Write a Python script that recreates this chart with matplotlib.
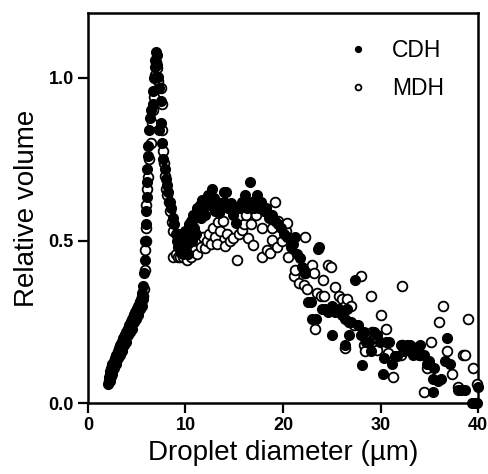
import matplotlib
matplotlib.use("Agg")
import matplotlib.pyplot as plt

plt.rcParams['font.family'] = ['Liberation Sans', 'DejaVu Sans']

cdh_x = [2.1, 2.2, 2.25, 2.3, 2.4, 2.5, 2.6, 2.7, 2.8, 2.9, 3.0, 3.1, 3.2, 3.3, 3.4, 3.5, 3.6, 3.7, 3.8, 3.9,
         4.0, 4.1, 4.2, 4.3, 4.4, 4.5, 4.6, 4.7, 4.8, 4.9, 5.0, 5.1, 5.2, 5.3, 5.4, 5.5, 5.6, 5.7, 5.8,
         2.3, 2.5, 2.7, 2.9, 3.1, 3.3, 3.5, 3.7, 3.9, 4.1, 4.3, 4.5, 4.7, 4.9, 5.1, 5.3, 5.5, 5.7,
         5.85, 5.9, 5.95, 6.0, 6.02, 6.08, 6.1, 6.15, 6.19, 6.3, 6.36, 6.5, 6.65, 6.7, 6.8, 6.9, 6.87, 6.95,
         7.05, 7.1, 7.2, 7.3, 7.3, 7.45, 7.5, 7.6, 7.75, 7.9, 8.0, 8.1, 8.25, 8.4, 8.55, 8.7, 8.85, 9.0, 9.1,
         9.2, 9.3, 9.4, 9.5, 9.6, 9.7, 9.8, 9.9, 10.0, 10.1, 10.2, 10.3, 10.4, 10.5, 10.6, 10.7, 10.8, 10.9,
         11.0, 11.1, 11.2, 11.3, 11.5, 11.6, 11.7, 11.8, 12.0, 12.1, 12.3, 12.5, 12.7, 12.9, 13.0, 13.2, 13.4,
         13.6, 13.9, 14.0, 14.2, 14.4, 14.7, 14.9, 15.1, 15.2, 15.5, 15.8, 16.1, 16.3, 16.6, 16.8, 17.0, 17.3,
         17.5, 17.7, 18.0, 18.3, 18.6, 18.9, 19.2, 19.5, 19.8, 20.1, 20.4, 20.8, 21.0, 21.2, 21.4, 21.7, 21.9,
         22.3, 22.6, 22.9, 23.0, 23.4, 23.6, 23.7, 24.0, 24.3, 24.6, 25.0, 25.0, 25.3, 25.7, 26.0, 26.3, 26.3,
         26.6, 26.8, 27.0, 27.4, 27.7, 28.0, 28.1, 28.3, 28.5, 28.8, 29.0, 29.3, 29.6, 29.9, 30.2, 30.3, 30.6,
         30.9, 31.2, 31.5, 31.7, 32.1, 32.4, 32.7, 33.0, 33.3, 33.6, 33.9, 34.0, 34.4, 34.7, 35.0, 35.4, 35.4,
         35.5, 35.9, 36.2, 36.6, 36.8, 37.1, 37.9, 38.2, 38.6, 39.4, 39.7, 39.9, 39.96]
cdh_y = [0.06, 0.08, 0.10, 0.09, 0.11, 0.12, 0.12, 0.13, 0.14, 0.15, 0.15, 0.16, 0.17, 0.18, 0.18, 0.19, 0.20, 0.20, 0.21, 0.22,
         0.22, 0.23, 0.24, 0.24, 0.25, 0.26, 0.26, 0.27, 0.28, 0.28, 0.29, 0.30, 0.30, 0.31, 0.32, 0.33, 0.34, 0.36, 0.40,
         0.07, 0.09, 0.11, 0.12, 0.14, 0.15, 0.16, 0.18, 0.19, 0.21, 0.22, 0.23, 0.25, 0.26, 0.27, 0.29, 0.30, 0.32,
         0.44, 0.50, 0.55, 0.59, 0.635, 0.68, 0.72, 0.76, 0.79, 0.84, 0.876, 0.90, 0.92, 0.96, 1.00, 1.035, 1.055, 1.08,
         1.07, 1.04, 1.004, 0.97, 0.84, 0.93, 0.86, 0.80, 0.75, 0.72, 0.69, 0.67, 0.65, 0.62, 0.60, 0.57, 0.55, 0.52, 0.50,
         0.48, 0.52, 0.47, 0.50, 0.49, 0.46, 0.51, 0.47, 0.53, 0.49, 0.50, 0.46, 0.55, 0.52, 0.56, 0.50, 0.58, 0.54,
         0.57, 0.52, 0.60, 0.59, 0.61, 0.57, 0.625, 0.60, 0.58, 0.62, 0.64, 0.61, 0.66, 0.63, 0.59, 0.62, 0.585,
         0.60, 0.65, 0.62, 0.65, 0.60, 0.615, 0.58, 0.60, 0.555, 0.60, 0.62, 0.64, 0.60, 0.68, 0.62, 0.60, 0.64,
         0.60, 0.62, 0.59, 0.60, 0.57, 0.58, 0.56, 0.55, 0.54, 0.52, 0.51, 0.48, 0.49, 0.51, 0.46, 0.447, 0.42,
         0.40, 0.31, 0.31, 0.26, 0.26, 0.475, 0.48, 0.29, 0.29, 0.28, 0.30, 0.21, 0.28, 0.29, 0.27, 0.26, 0.18,
         0.29, 0.21, 0.25, 0.38, 0.24, 0.21, 0.118, 0.22, 0.19, 0.19, 0.16, 0.22, 0.21, 0.19, 0.09, 0.14, 0.19,
         0.19, 0.12, 0.145, 0.145, 0.18, 0.16, 0.18, 0.18, 0.15, 0.17, 0.15, 0.18, 0.15, 0.12, 0.13, 0.075, 0.035,
         0.11, 0.07, 0.075, 0.13, 0.20, 0.12, 0.04, 0.04, 0.04, 0.0, 0.0, 0.0, 0.05]

mdh_x = [2.15, 2.35, 2.45, 2.55, 2.65, 2.75, 2.85, 2.95, 3.05, 3.15, 3.25, 3.35, 3.45, 3.55, 3.65, 3.75, 3.85, 3.95,
         4.05, 4.15, 4.25, 4.35, 4.45, 4.55, 4.65, 4.75, 4.85, 4.95, 5.05, 5.15, 5.25, 5.35, 5.45, 5.55, 5.65, 5.75,
         5.85, 5.9, 5.95, 6.0, 6.0, 6.1, 6.2, 6.3, 6.45, 6.55, 6.7, 6.8, 6.9, 7.0, 7.1, 7.2, 7.5, 7.6, 7.6, 7.7,
         7.8, 7.9, 8.0, 8.1, 8.3, 8.4, 8.6, 8.75, 8.75, 9.0, 9.26, 9.4, 9.6, 9.8, 10.0, 10.2, 10.4, 10.6, 10.8,
         11.0, 11.2, 11.4, 11.6, 11.8, 12.0, 12.2, 12.4, 12.6, 12.8, 13.0, 13.2, 13.37, 13.5, 13.8, 14.05, 14.3,
         14.6, 14.9, 15.25, 15.5, 15.76, 16.0, 16.2, 16.4, 16.7, 16.96, 17.2, 17.5, 17.8, 17.8, 18.1, 18.4, 18.67,
         18.84, 18.84, 19.2, 19.35, 19.5, 19.9, 20.3, 20.4, 20.5, 21.1, 21.2, 21.6, 22.1, 22.26, 22.3, 22.5, 23.0,
         23.2, 23.3, 23.5, 23.9, 24.1, 24.2, 24.6, 24.9, 25.3, 25.7, 26.0, 26.3, 26.3, 26.6, 26.8, 27.0, 27.3,
         28.0, 28.3, 28.4, 28.8, 29.0, 29.1, 29.2, 29.4, 29.6, 30.0, 30.6, 30.8, 31.3, 32.1, 32.2, 32.2, 32.9,
         33.5, 34.0, 34.4, 34.7, 35.2, 36.0, 36.4, 36.8, 37.3, 37.9, 38.4, 38.6, 38.9, 39.5, 39.9]
mdh_y = [0.07, 0.085, 0.10, 0.11, 0.12, 0.13, 0.14, 0.14, 0.15, 0.16, 0.17, 0.17, 0.18, 0.19, 0.19, 0.20, 0.21, 0.21,
         0.22, 0.23, 0.23, 0.24, 0.25, 0.25, 0.26, 0.27, 0.27, 0.28, 0.29, 0.29, 0.30, 0.31, 0.31, 0.32, 0.33, 0.35,
         0.41, 0.47, 0.50, 0.54, 0.61, 0.66, 0.697, 0.75, 0.80, 0.86, 0.90, 0.94, 1.01, 1.05, 1.03, 0.99, 0.97, 0.92, 0.84, 0.774,
         0.74, 0.70, 0.66, 0.64, 0.62, 0.59, 0.558, 0.53, 0.45, 0.46, 0.451, 0.45, 0.46, 0.45, 0.47, 0.44, 0.46, 0.451, 0.48,
         0.47, 0.46, 0.50, 0.48, 0.51, 0.477, 0.50, 0.52, 0.49, 0.54, 0.51, 0.49, 0.558, 0.53, 0.56, 0.482, 0.52,
         0.50, 0.507, 0.441, 0.52, 0.533, 0.55, 0.58, 0.507, 0.55, 0.487, 0.58, 0.62, 0.538, 0.451, 0.60, 0.47, 0.461,
         0.538, 0.502, 0.62, 0.48, 0.56, 0.50, 0.53, 0.553, 0.451, 0.39, 0.41, 0.37, 0.364, 0.512, 0.40, 0.35, 0.425,
         0.40, 0.23, 0.34, 0.33, 0.38, 0.33, 0.425, 0.42, 0.359, 0.33, 0.32, 0.30, 0.17, 0.32, 0.25, 0.30, 0.24,
         0.39, 0.18, 0.16, 0.20, 0.33, 0.22, 0.18, 0.20, 0.164, 0.27, 0.228, 0.155, 0.082, 0.15, 0.36, 0.18, 0.17,
         0.17, 0.15, 0.036, 0.108, 0.19, 0.251, 0.30, 0.16, 0.09, 0.05, 0.149, 0.149, 0.259, 0.11, 0.06]

x_ticks = [0, 10, 20, 30, 40]
y_ticks = [0.0, 0.5, 1.0]
y_tick_labels = ['0.0', '0.5', '1.0']

fig = plt.figure(figsize=(4.88, 4.74), dpi=100)
ax = fig.add_axes([0.180, 0.149, 0.800, 0.824])

ax.plot(mdh_x, mdh_y, linestyle='none', marker='o', markersize=7, markerfacecolor='white',
        markeredgecolor='black', markeredgewidth=1.3, label='MDH', clip_on=False, zorder=3)
ax.plot(cdh_x, cdh_y, linestyle='none', marker='o', markersize=7, markerfacecolor='black',
        markeredgecolor='black', markeredgewidth=1.0, label='CDH', clip_on=False, zorder=4)

ax.set_xlim(0, 40)
ax.set_ylim(0, 1.2)
ax.set_xticks(x_ticks)
ax.set_yticks(y_ticks)
ax.set_yticklabels(y_tick_labels)
for lab in ax.get_xticklabels() + ax.get_yticklabels():
    lab.set_fontweight('bold')
    lab.set_fontsize(13)
ax.tick_params(direction='out', length=7, width=1.6, pad=3)
for sp in ax.spines.values():
    sp.set_linewidth(1.8)

ax.set_xlabel('Droplet diameter (µm)', fontsize=20, labelpad=4)
ax.set_ylabel('Relative volume', fontsize=20, labelpad=6)

handles, labels = ax.get_legend_handles_labels()
leg = ax.legend(handles[::-1], labels[::-1], loc='upper right', frameon=False, fontsize=16.5,
                markerscale=0.6, handletextpad=0.7, handlelength=1.6, labelspacing=0.65,
                bbox_to_anchor=(0.965, 0.985))

fig.savefig('out.png', dpi=100)
